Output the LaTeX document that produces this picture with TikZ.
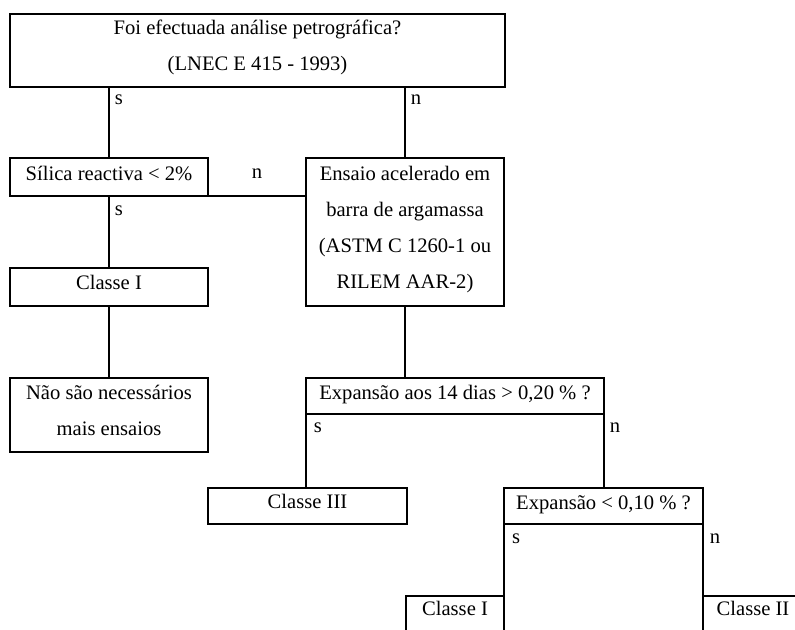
\documentclass[tikz,border=0pt]{standalone}
\usepackage{fontspec}
\setmainfont{Liberation Serif}
\usetikzlibrary{calc}
\tikzset{
  box/.style = {
    draw, rectangle, inner sep=0pt, outer sep=0pt, line width=0.9pt
  },
  txt/.style = {
    anchor=base, align=center, inner sep=0pt, font=\fontsize{10.3}{18}\selectfont
  },
  lbl/.style = {anchor=base, inner sep=0pt, font=\fontsize{10.3}{12}\selectfont},
  link/.style = {line width=0.9pt},
}

\begin{document}
\begin{tikzpicture}[x=0.5pt, y=-0.5pt]
    \useasboundingbox (0,0) rectangle (795,629);
    \clip (0,0) rectangle (795,629);

    % Boxes of the decision tree
    \node[box, minimum width=247.5pt, minimum height=36.5pt] (foi) at (257.5,50.5) {};
    \node[box, minimum width=99pt, minimum height=19pt] (silica) at (109,177) {};
    \node[box, minimum width=99pt, minimum height=74pt] (ensaio) at (405,232) {};
    \node[box, minimum width=99pt, minimum height=19pt] (classeA) at (109,287) {};
    \node[box, minimum width=99pt, minimum height=37pt] (nao) at (109,415) {};
    \node[box, minimum width=149pt, minimum height=18pt] (expA) at (455,396) {};
    \node[box, minimum width=99.5pt, minimum height=18pt] (classeIII) at (307.5,506) {};
    \node[box, minimum width=99.5pt, minimum height=18pt] (expB) at (603.5,506) {};
    \node[box, minimum width=49pt, minimum height=25pt] (classeB) at (455,621) {};
    \node[box, minimum width=50pt, minimum height=25pt] (classeII) at (753,621) {};

    % Texts near the top of each box (base = baseline of the last line)
    \node[txt] (foiT) at ($(foi.north)+(0,56)$) {Foi efectuada análise petrográfica?\\(LNEC E 415 - 1993)};
    \node[txt] (silicaT) at ($(silica.north)+(0,22)$) {Sílica reactiva < 2\%};
    \node[txt] (ensaioT) at ($(ensaio.north)+(0,130)$) {Ensaio acelerado em\\barra de argamassa\\(ASTM C 1260-1 ou\\RILEM AAR-2)};
    \node[txt] (classeAT) at ($(classeA.north)+(0,21)$) {Classe I};
    \node[txt] (naoT) at ($(nao.north)+(0,57)$) {Não são necessários\\mais ensaios};
    \node[txt] (expAT) at ($(expA.north)+(0,21)$) {Expansão aos 14 dias > 0,20 \% ?};
    \node[txt] (classeIIIT) at ($(classeIII.north)+(0,20)$) {Classe III};
    \node[txt] (expBT) at ($(expB.north)+(0,21)$) {Expansão < 0,10 \% ?};
    \node[txt] (classeBT) at ($(classeB.north)+(0,19)$) {Classe I};
    \node[txt] (classeIIT) at ($(classeII.north)+(0,19)$) {Classe II};

    % Answers s / n
    \node[lbl] (s1) at ($(foi.south -| silica.north)+(10,17)$) {s};
    \node[lbl] (n1) at ($(foi.south -| ensaio.north)+(11,17)$) {n};
    \node[lbl] (n2) at ($(silica.east)!0.5!(silica.east -| ensaio.west)+(0,1)$) {n};
    \node[lbl] (s2) at ($(silica.south)+(10,19)$) {s};
    \node[lbl] (s3) at ($(expA.south west)+(12,18)$) {s};
    \node[lbl] (n3) at ($(expA.south east)+(11,18)$) {n};
    \node[lbl] (s4) at ($(expB.south west)+(12,19)$) {s};
    \node[lbl] (n4) at ($(expB.south east)+(12,19)$) {n};

    % Connecting lines
    \draw[link] (foi.south -| silica.north) -- (silica.north);
    \draw[link] (foi.south -| ensaio.north) -- (ensaio.north);
    \draw[link] (silica.south east) -- (silica.south east -| ensaio.west);
    \draw[link] (silica.south) -- (classeA.north);
    \draw[link] (classeA.south) -- (nao.north);
    \draw[link] (ensaio.south) -- (ensaio.south |- expA.north);
    \draw[link] (expA.south west) -- (expA.south west |- classeIII.north);
    \draw[link] (expA.south east) -- (expA.south east |- expB.north);
    \draw[link] (expB.south west) -- (classeB.north east);
    \draw[link] (expB.south east) -- (classeII.north west);

\end{tikzpicture}
\end{document}
